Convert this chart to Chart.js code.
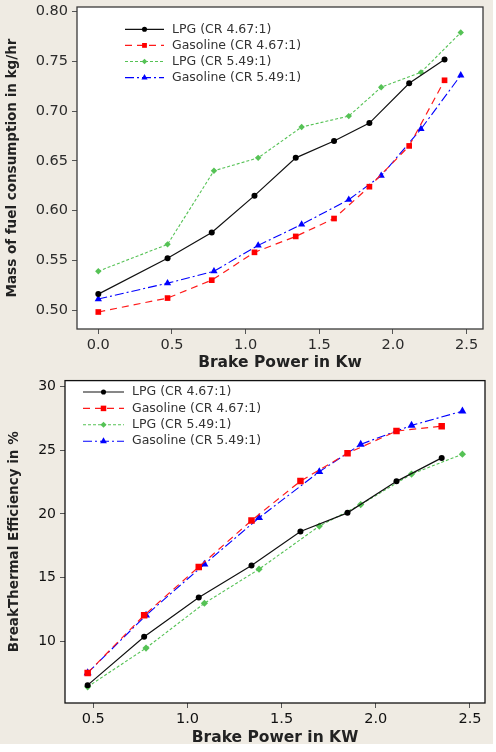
<!DOCTYPE html>
<html>
<head>
<meta charset="utf-8">
<script src="https://cdn.jsdelivr.net/npm/chart.js@4/dist/chart.umd.min.js"></script>
<style>
  body { margin: 0; background: #fff; }
  canvas { display: block; }
</style>
</head>
<body>
<canvas id="fuelChart" width="496" height="376"></canvas>
<canvas id="effChart" width="496" height="376"></canvas>
<script>
// series names
const seriesNames = ['LPG (CR 4.67:1)', 'Gasoline (CR 4.67:1)', 'LPG (CR 5.49:1)', 'Gasoline (CR 5.49:1)'];

// top chart: fuel consumption (kg/hr) vs brake power (kW)
const fuelPower467 = [0, 0.47, 0.77, 1.06, 1.34, 1.60, 1.84, 2.11, 2.35];
const fuelPower549 = [0, 0.47, 0.785, 1.085, 1.38, 1.70, 1.92, 2.19, 2.46];
const fuelLpg467 = [0.516, 0.552, 0.578, 0.615, 0.653, 0.670, 0.688, 0.728, 0.752];
const fuelGas467 = [0.498, 0.512, 0.530, 0.558, 0.574, 0.592, 0.624, 0.665, 0.731];
const fuelLpg549 = [0.539, 0.566, 0.640, 0.653, 0.684, 0.695, 0.724, 0.739, 0.779];
const fuelGas549 = [0.511, 0.527, 0.539, 0.565, 0.586, 0.611, 0.635, 0.682, 0.736];
const fuelXTicks = [0, 0.5, 1.0, 1.5, 2.0, 2.5];
const fuelYTicks = [0.50, 0.55, 0.60, 0.65, 0.70, 0.75, 0.80];

// bottom chart: brake thermal efficiency (%) vs brake power (kW)
const effPower467 = [0.47, 0.77, 1.06, 1.34, 1.60, 1.85, 2.11, 2.35];
const effPower549 = [0.47, 0.78, 1.09, 1.38, 1.70, 1.92, 2.19, 2.46];
const effLpg467 = [6.57, 10.36, 13.45, 15.95, 18.62, 20.08, 22.55, 24.39];
const effGas467 = [7.53, 12.05, 15.84, 19.48, 22.57, 24.75, 26.49, 26.88];
const effLpg549 = [6.44, 9.48, 12.99, 15.66, 19.04, 20.73, 23.12, 24.68];
const effGas549 = [7.53, 12.05, 16.05, 19.69, 23.30, 25.45, 26.94, 28.05];
const effXTicks = [0.5, 1.0, 1.5, 2.0, 2.5];
const effYTicks = [10, 15, 20, 25, 30];

const BEIGE = '#efebe3';

function pts(xs, ys) {
  return xs.map((x, i) => ({ x: x, y: ys[i] }));
}

// look of each series (black solid/circle, red dashed/square, green dotted/diamond, blue dash-dot/triangle)
function makeDatasets(xa, xb, s1, s2, s3, s4, big) {
  return [
    { label: seriesNames[0], data: pts(xa, s1), borderColor: '#111', backgroundColor: '#000',
      borderWidth: 1.2, pointStyle: 'circle', pointRadius: 3, borderDash: [] },
    { label: seriesNames[1], data: pts(xa, s2), borderColor: '#ff1a1a', backgroundColor: '#ff0000',
      borderWidth: 1.2, pointStyle: 'rect', pointRadius: big ? 4.6 : 4, borderDash: [7, 5] },
    { label: seriesNames[2], data: pts(xb, s3), borderColor: '#55c255', backgroundColor: '#55c255',
      borderWidth: 1.1, pointStyle: 'rectRot', pointRadius: big ? 3.6 : 3.2, borderDash: [3, 2] },
    { label: seriesNames[3], data: pts(xb, s4), borderColor: '#0000ff', backgroundColor: '#0000ff',
      borderWidth: 1.1, pointStyle: 'triangle', pointRadius: big ? 4.6 : 4.2, borderDash: [9, 3, 2, 3] }
  ].map(d => Object.assign(d, { showLine: true, tension: 0, pointBorderWidth: 0,
                                 pointBackgroundColor: d.backgroundColor, pointHoverRadius: d.pointRadius }));
}

// background, plot frame and inside legend
function decorPlugin(cfg) {
  return {
    id: 'decor',
    beforeDraw(chart) {
      const ctx = chart.ctx;
      ctx.save();
      ctx.fillStyle = BEIGE;
      ctx.fillRect(0, 0, 493, cfg.bgHeight);
      const a = chart.chartArea;
      ctx.fillStyle = '#fff';
      ctx.fillRect(a.left, a.top, a.right - a.left, a.bottom - a.top);
      ctx.restore();
    },
    afterDraw(chart) {
      const ctx = chart.ctx;
      const a = chart.chartArea;
      ctx.save();
      ctx.strokeStyle = cfg.frame;
      ctx.lineWidth = 1.3;
      ctx.strokeRect(a.left, a.top, a.right - a.left, a.bottom - a.top);
      chart.data.datasets.forEach((d, i) => {
        const y = cfg.legendY + i * cfg.legendStep;
        ctx.strokeStyle = d.borderColor;
        ctx.lineWidth = d.borderWidth;
        ctx.setLineDash(d.borderDash);
        ctx.beginPath();
        ctx.moveTo(cfg.legendX1, y);
        ctx.lineTo(cfg.legendX2, y);
        ctx.stroke();
        ctx.setLineDash([]);
        ctx.fillStyle = d.backgroundColor;
        Chart.helpers.drawPoint(ctx, { pointStyle: d.pointStyle, radius: d.pointRadius * 0.85,
                                       rotation: 0, borderWidth: 0 }, (cfg.legendX1 + cfg.legendX2) / 2, y);
        ctx.fillStyle = '#333';
        ctx.font = '12.5px "DejaVu Sans"';
        ctx.textBaseline = 'middle';
        ctx.fillText(d.label, cfg.legendX2 + 8, y);
      });
      ctx.restore();
    }
  };
}

function makeChart(id, datasets, cfg) {
  return new Chart(document.getElementById(id), {
    type: 'scatter',
    data: { datasets: datasets },
    options: {
      responsive: false,
      animation: false,
      layout: { padding: { top: cfg.top, right: cfg.right, left: 0, bottom: 0 } },
      plugins: { legend: { display: false }, tooltip: { enabled: false } },
      scales: {
        x: {
          type: 'linear', min: cfg.xMin, max: cfg.xMax,
          afterBuildTicks: s => { s.ticks = cfg.xTicks.map(v => ({ value: v })); },
          afterFit: s => { s.height = cfg.xHeight; s.paddingLeft = 0; s.paddingRight = 0; },
          grid: { drawOnChartArea: false, tickLength: 5, tickColor: '#555' },
          border: { display: false },
          ticks: { autoSkip: false, maxRotation: 0, padding: 3, color: cfg.tickColor,
                   font: { family: 'DejaVu Sans', size: 14.5 },
                   callback: v => Number(v).toFixed(1) },
          title: { display: true, text: cfg.xTitle, color: '#222', padding: { top: 0, bottom: cfg.xTitlePad },
                   font: { family: 'DejaVu Sans', size: 15.5, weight: 'bold' } }
        },
        y: {
          type: 'linear', min: cfg.yMin, max: cfg.yMax,
          afterBuildTicks: s => { s.ticks = cfg.yTicks.map(v => ({ value: v })); },
          afterFit: s => { s.width = cfg.yWidth; s.paddingTop = 0; s.paddingBottom = 0; },
          grid: { drawOnChartArea: false, tickLength: 5, tickColor: '#555' },
          border: { display: false },
          ticks: { autoSkip: false, padding: 4, color: cfg.tickColor,
                   font: { family: 'DejaVu Sans', size: cfg.yTickSize },
                   callback: v => Number(v).toFixed(cfg.yDec) },
          title: { display: true, text: cfg.yTitle, color: '#222', padding: { top: cfg.yTitlePad, bottom: 0 },
                   font: { family: 'DejaVu Sans', size: 13.5, weight: 'bold' } }
        }
      }
    },
    plugins: [decorPlugin(cfg)]
  });
}

makeChart('fuelChart',
  makeDatasets(fuelPower467, fuelPower549, fuelLpg467, fuelGas467, fuelLpg549, fuelGas549, false),
  { top: 7, right: 13, xHeight: 47, yWidth: 77,
    xMin: -0.1446, xMax: 2.611, yMin: 0.4809, yMax: 0.8047,
    xTicks: fuelXTicks, yTicks: fuelYTicks, yDec: 2, yTickSize: 14.5, tickColor: '#2b2b2b',
    xTitle: 'Brake Power in Kw', yTitle: 'Mass of fuel consumption in kg/hr',
    xTitlePad: 3.7, yTitlePad: 3.9, bgHeight: 376, frame: '#3a3a3a',
    legendX1: 125, legendX2: 164, legendY: 29.3, legendStep: 16.1 });

makeChart('effChart',
  makeDatasets(effPower467, effPower549, effLpg467, effGas467, effLpg549, effGas549, true),
  { top: 2.5, right: 11, xHeight: 49, yWidth: 65,
    xMin: 0.3497, xMax: 2.58, yMin: 5.17, yMax: 30.45,
    xTicks: effXTicks, yTicks: effYTicks, yDec: 0, yTickSize: 14, tickColor: '#111',
    xTitle: 'Brake Power in KW', yTitle: 'BreakThermal Efficiency in %',
    xTitlePad: 4.7, yTitlePad: 5.9, bgHeight: 368, frame: '#111',
    legendX1: 83, legendX2: 124, legendY: 16, legendStep: 16.4 });
</script>
</body>
</html>
